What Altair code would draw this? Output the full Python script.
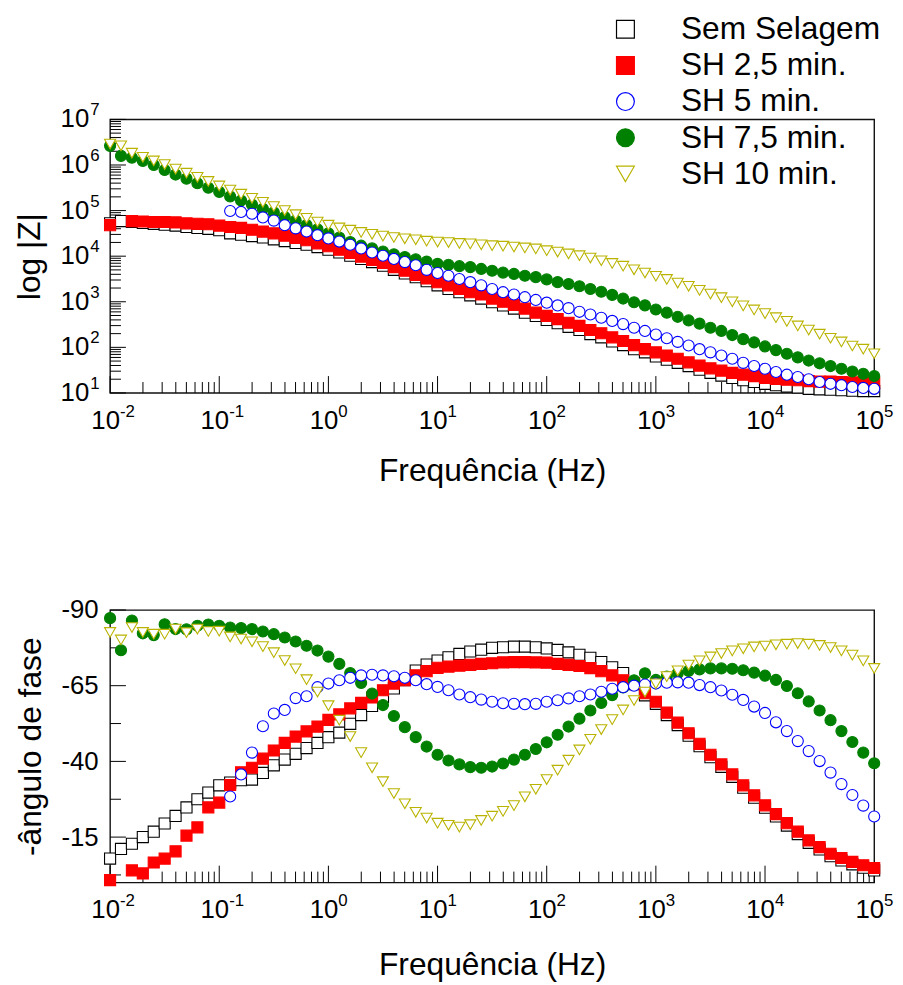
import altair as alt
import pandas as pd

# ---------------- data ----------------
freq = [0.01, 0.01259, 0.01585, 0.01995, 0.02512, 0.03162, 0.03981, 0.05012, 0.0631, 0.07943,
        0.1, 0.1259, 0.1585, 0.1995, 0.2512, 0.3162, 0.3981, 0.5012, 0.631, 0.7943,
        1, 1.259, 1.585, 1.995, 2.512, 3.162, 3.981, 5.012, 6.31, 7.943,
        10, 12.59, 15.85, 19.95, 25.12, 31.62, 39.81, 50.12, 63.1, 79.43,
        100, 125.9, 158.5, 199.5, 251.2, 316.2, 398.1, 501.2, 631, 794.3,
        1000, 1259, 1585, 1995, 2512, 3162, 3981, 5012, 6310, 7943,
        10000, 12590, 15850, 19950, 25120, 31620, 39810, 50120, 63100, 79430, 100000]

series = ["Sem Selagem", "SH 2,5 min.", "SH 5 min.", "SH 7,5 min.", "SH 10 min."]

# log10 |Z| (ohm)
logz_sem = [4.72, 4.77, 4.75, 4.73, 4.71, 4.69, 4.67, 4.64, 4.62, 4.60, 4.57,
            4.50, 4.47, 4.44, 4.41, 4.37, 4.33, 4.29, 4.25, 4.20, 4.14,
            4.08, 4.01, 3.94, 3.87, 3.79, 3.70, 3.62, 3.54, 3.45, 3.36,
            3.28, 3.21, 3.14, 3.07, 2.99, 2.92, 2.85, 2.76, 2.69, 2.60,
            2.53, 2.45, 2.38, 2.29, 2.22, 2.13, 2.05, 1.96, 1.89, 1.80,
            1.73, 1.66, 1.59, 1.51, 1.44, 1.38, 1.33, 1.28, 1.24, 1.20,
            1.17, 1.14, 1.12, 1.09, 1.08, 1.07, 1.06, 1.05, 1.04, 1.04]
logz_sh25 = [4.68, None, 4.77, 4.76, 4.75, 4.75, 4.74, 4.72, 4.71, 4.70, 4.67,
             4.64, 4.62, 4.58, 4.54, 4.50, 4.45, 4.40, 4.35, 4.28, 4.22,
             4.14, 4.07, 3.99, 3.92, 3.85, 3.76, 3.68, 3.59, 3.51, 3.43,
             3.36, 3.28, 3.21, 3.16, 3.07, 3.00, 2.93, 2.85, 2.76, 2.69,
             2.62, 2.54, 2.47, 2.38, 2.31, 2.22, 2.14, 2.05, 1.96, 1.89,
             1.82, 1.75, 1.67, 1.60, 1.54, 1.49, 1.44, 1.40, 1.37, 1.33,
             1.31, 1.29, 1.28, 1.26, 1.25, 1.25, 1.24, 1.23, 1.22, 1.22]
logz_sh5 = [None, None, None, None, None, None, None, None, None, None, None,
            4.99, 4.97, 4.93, 4.85, 4.78, 4.68, 4.61, 4.54, 4.46, 4.39,
            4.32, 4.25, 4.17, 4.08, 4.01, 3.94, 3.87, 3.80, 3.70, 3.63,
            3.57, 3.50, 3.43, 3.36, 3.28, 3.21, 3.16, 3.10, 3.04, 2.98,
            2.92, 2.86, 2.78, 2.72, 2.65, 2.58, 2.51, 2.43, 2.36, 2.28,
            2.20, 2.12, 2.04, 1.96, 1.89, 1.82, 1.75, 1.66, 1.59, 1.53,
            1.46, 1.40, 1.35, 1.30, 1.24, 1.20, 1.17, 1.13, 1.11, 1.09]
logz_sh75 = [6.42, 6.20, 6.16, 6.09, 6.00, 5.89, 5.79, 5.70, 5.60, 5.50, 5.41,
             5.31, 5.22, 5.13, 5.04, 4.96, 4.86, 4.78, 4.68, 4.59, 4.50,
             4.41, 4.31, 4.23, 4.17, 4.10, 4.04, 3.98, 3.93, 3.88, 3.83,
             3.81, 3.78, 3.76, 3.72, 3.68, 3.64, 3.61, 3.57, 3.54, 3.49,
             3.43, 3.39, 3.34, 3.28, 3.22, 3.15, 3.07, 2.99, 2.92, 2.83,
             2.76, 2.67, 2.59, 2.52, 2.43, 2.36, 2.27, 2.18, 2.11, 2.02,
             1.94, 1.86, 1.78, 1.71, 1.65, 1.59, 1.53, 1.47, 1.42, 1.37]
logz_sh10 = [6.46, 6.42, 6.26, 6.17, 6.09, 6.01, 5.91, 5.82, 5.73, 5.64, 5.54,
             5.45, 5.36, 5.27, 5.18, 5.09, 5.00, 4.91, 4.83, 4.75, 4.68,
             4.62, 4.57, 4.52, 4.48, 4.44, 4.41, 4.38, 4.36, 4.33, 4.31,
             4.30, 4.28, 4.27, 4.25, 4.23, 4.22, 4.20, 4.18, 4.16, 4.12,
             4.09, 4.05, 4.01, 3.96, 3.90, 3.84, 3.78, 3.70, 3.63, 3.56,
             3.49, 3.41, 3.34, 3.25, 3.17, 3.09, 3.00, 2.91, 2.82, 2.74,
             2.65, 2.57, 2.47, 2.38, 2.29, 2.20, 2.12, 2.03, 1.96, 1.86]

# phase angle (degrees)
ph_sem = [-7.9, -11.1, -12.8, -15.0, -16.8, -19.5, -22.0, -24.8, -27.5, -29.7, -32.1,
          -33.0, -33.8, -34.0, -36.2, -38.7, -40.6, -42.5, -44.4, -46.1, -48.0,
          -49.5, -52.4, -55.3, -58.3, -61.3, -64.1, -66.8, -70.0, -72.0, -73.3,
          -74.4, -75.5, -76.3, -76.9, -77.5, -77.7, -77.9, -77.9, -77.7, -77.3,
          -76.8, -76.0, -75.2, -74.2, -72.8, -71.1, -69.2, -65.5, -61.8, -59.0,
          -55.3, -52.0, -48.5, -45.0, -41.4, -38.2, -34.9, -31.3, -28.0, -24.7,
          -21.8, -18.8, -16.0, -13.1, -10.9, -8.7, -7.3, -6.0, -4.9, -4.0]
ph_sh25 = [-0.8, None, -4.0, -3.0, -6.6, -7.9, -10.3, -15.5, -18.2, -24.8, -26.4,
           -32.2, -36.4, -37.9, -40.9, -43.6, -46.1, -48.2, -49.9, -51.5, -53.7,
           -55.5, -57.5, -59.3, -61.1, -63.5, -65.7, -66.8, -68.4, -69.8, -70.9,
           -71.3, -71.6, -71.9, -72.2, -72.4, -72.7, -72.8, -72.8, -72.7, -72.6,
           -72.2, -71.9, -71.5, -70.8, -69.8, -68.4, -66.8, -65.8, -62.5, -59.7,
           -56.1, -52.8, -49.3, -45.8, -42.2, -39.0, -35.7, -32.1, -28.8, -25.5,
           -22.6, -19.6, -16.8, -13.9, -11.7, -9.5, -8.1, -6.8, -5.7, -4.8]
ph_sh5 = [None, None, None, None, None, None, None, None, None, None, None,
          -28.4, -35.7, -42.9, -51.6, -55.8, -57.0, -60.9, -61.5, -64.5, -65.7,
          -66.8, -67.6, -68.4, -68.6, -68.4, -68.1, -67.6, -66.8, -65.5, -64.6,
          -63.5, -62.1, -61.2, -60.4, -59.7, -59.2, -59.0, -58.9, -59.0, -59.7,
          -60.2, -60.8, -61.5, -62.1, -63.0, -64.0, -64.5, -65.0, -65.4, -65.7,
          -66.0, -66.1, -66.0, -65.2, -64.5, -63.4, -62.0, -60.3, -58.1, -56.0,
          -52.9, -50.0, -46.7, -43.4, -40.1, -36.3, -32.5, -28.9, -25.4, -21.8]
ph_sh75 = [-87.3, -76.7, -86.5, -82.3, -81.7, -85.3, -83.7, -83.6, -84.8, -85.2, -84.8,
           -84.2, -84.0, -83.7, -82.9, -82.0, -80.9, -79.6, -78.2, -76.6, -74.6,
           -72.2, -69.2, -65.9, -62.4, -58.6, -55.0, -51.3, -48.0, -44.9, -42.2,
           -40.3, -39.0, -38.1, -37.9, -38.3, -39.3, -40.6, -42.2, -44.1, -46.3,
           -48.8, -51.5, -54.1, -56.8, -59.3, -61.9, -64.4, -66.8, -69.1, -66.9,
           -68.0, -69.1, -69.9, -70.4, -70.7, -70.7, -70.6, -70.1, -69.3, -68.3,
           -66.9, -64.9, -62.5, -59.8, -56.8, -53.6, -50.0, -46.4, -42.9, -39.4]
ph_sh10 = [-82.6, -80.1, -84.2, -82.6, -82.0, -82.0, -83.7, -82.5, -83.7, -82.9, -83.0,
           -81.1, -80.4, -79.5, -77.9, -75.9, -73.3, -70.6, -67.0, -62.9, -58.4,
           -53.6, -48.2, -42.9, -37.9, -33.3, -29.4, -26.0, -23.2, -21.3, -19.6,
           -18.9, -18.3, -19.1, -20.5, -21.9, -23.5, -25.4, -28.3, -30.8, -34.0,
           -37.1, -40.4, -43.8, -47.3, -50.5, -53.8, -57.0, -60.1, -62.9, -65.6,
           -68.0, -69.9, -71.8, -73.2, -74.5, -75.6, -76.5, -77.2, -77.8, -78.1,
           -78.5, -78.7, -78.9, -78.7, -78.3, -77.6, -76.5, -75.1, -73.2, -70.7]

# axis ticks and their labels
x_major = [0.01, 0.1, 1, 10, 100, 1000, 10000, 100000]
x_exp = ["-2", "-1", "0", "1", "2", "3", "4", "5"]
z_major = [10, 100, 1000, 10000, 100000, 1000000, 10000000]
z_exp = ["1", "2", "3", "4", "5", "6", "7"]
ph_major = [-90, -65, -40, -15]
ph_minor = [-77.5, -52.5, -27.5, -2.5]

# ---------------- styling ----------------
stroke_colors = ["#000000", "#ff0000", "#0000ff", "#008000", "#b9b300"]
fill_colors = ["#ffffff", "#ff0000", "#ffffff", "#008000", "#ffffff"]
shapes = ["square", "square", "circle", "circle", "triangle-down"]
draw_order = [0, 1, 3, 2, 4]

FONT = "Liberation Sans"
W, H1, H2 = 771, 276, 275

x_minor = [m * d for d in x_major[:-1] for m in range(2, 10)]
z_minor = [m * d for d in z_major[:-1] for m in range(2, 10)]


def long_table(arrays, col):
    rows = []
    for k in draw_order:
        for f, v in zip(freq, arrays[k]):
            if v is not None:
                rows.append({"freq": f, "series": series[k], col: v})
    return pd.DataFrame(rows)


df_top = long_table([logz_sem, logz_sh25, logz_sh5, logz_sh75, logz_sh10], "logZ")
df_bot = long_table([ph_sem, ph_sh25, ph_sh5, ph_sh75, ph_sh10], "phase")

xscale = alt.Scale(type="log", domain=[0.01, 100000], nice=False)


def x_def(title_pad):
    return alt.X("freq:Q", scale=xscale, axis=alt.Axis(
        values=x_major, labels=False, ticks=False, tickSize=0, domain=False, grid=False,
        title="Frequência (Hz)", titleFontSize=32, titleFontWeight="normal",
        titleFont=FONT, titleColor="black", titlePadding=title_pad))


def legend_def():
    return alt.Legend(title=None, orient="none", legendX=504, legendY=-107, padding=0,
                      labelFontSize=32, labelFont=FONT, labelColor="black", labelLimit=400,
                      symbolSize=324, symbolStrokeWidth=1.2, labelOffset=40, rowPadding=4.5)


def point_layer(data, X, y_enc, with_legend):
    lg = legend_def() if with_legend else None
    return alt.Chart(data).mark_point(filled=True, opacity=1, size=125, strokeWidth=1.1).encode(
        x=X, y=y_enc,
        stroke=alt.Stroke("series:N", scale=alt.Scale(domain=series, range=stroke_colors), legend=lg),
        fill=alt.Fill("series:N", scale=alt.Scale(domain=series, range=fill_colors), legend=lg),
        shape=alt.Shape("series:N", scale=alt.Scale(domain=series, range=shapes), legend=lg),
    )


def tick_layers(X, Y, yfield, h, ymaj, ymin):
    xt_maj = alt.Chart(pd.DataFrame({"freq": x_major})).mark_rule(color="black", strokeWidth=1).encode(
        x=X, y=alt.value(h), y2=alt.value(h - 17))
    xt_min = alt.Chart(pd.DataFrame({"freq": x_minor})).mark_rule(color="black", strokeWidth=1).encode(
        x=X, y=alt.value(h), y2=alt.value(h - 11))
    yt_maj = alt.Chart(pd.DataFrame({yfield: ymaj})).mark_rule(color="black", strokeWidth=1).encode(
        y=Y, x=alt.value(0), x2=alt.value(16))
    yt_min = alt.Chart(pd.DataFrame({yfield: ymin})).mark_rule(color="black", strokeWidth=1).encode(
        y=Y, x=alt.value(0), x2=alt.value(11))
    return [xt_maj, xt_min, yt_maj, yt_min]


def x_label_layers(X, h):
    d = pd.DataFrame({"freq": x_major, "exp": x_exp})
    base = alt.Chart(d).mark_text(text="10", font=FONT, fontSize=26, align="right",
                                  baseline="alphabetic", dx=10, color="black").encode(
        x=X, y=alt.value(h + 36))
    expo = alt.Chart(d).mark_text(font=FONT, fontSize=17, align="left",
                                  baseline="alphabetic", dx=10, color="black").encode(
        x=X, y=alt.value(h + 24), text="exp:N")
    return [base, expo]


# ---- top panel: |Z| ----
X_top = x_def(63)
Y_top = alt.Y("Z:Q", scale=alt.Scale(type="log", domain=[10, 10000000], nice=False),
              axis=alt.Axis(values=z_major, labels=False, ticks=False, tickSize=0, domain=False,
                            grid=False, title="log |Z|", titleFontSize=32, titleFontWeight="normal",
                            titleFont=FONT, titleColor="black", titlePadding=64))
zd = pd.DataFrame({"Z": z_major, "exp": z_exp})
y_base_top = alt.Chart(zd).mark_text(text="10", font=FONT, fontSize=26, align="right",
                                     baseline="middle", color="black").encode(
    y=Y_top, x=alt.value(-21))
y_exp_top = alt.Chart(zd).mark_text(font=FONT, fontSize=17, align="left", baseline="middle",
                                    dy=-9, color="black").encode(
    y=Y_top, x=alt.value(-20), text="exp:N")
pts_top = point_layer(df_top, X_top, Y_top, True).transform_calculate(Z="pow(10, datum.logZ)")
top = alt.layer(*tick_layers(X_top, Y_top, "Z", H1, z_major, z_minor),
                *x_label_layers(X_top, H1), y_base_top, y_exp_top, pts_top).properties(
    width=W, height=H1)

# ---- bottom panel: phase ----
X_bot = x_def(68)
Y_bot = alt.Y("phase:Q", scale=alt.Scale(domain=[-90, 0], reverse=True, nice=False),
              axis=alt.Axis(values=ph_major, labelExpr="'' + datum.value", ticks=False, tickSize=0,
                            domain=False, grid=False, labelPadding=12, labelFontSize=26,
                            labelFont=FONT, labelColor="black",
                            labelOverlap=False, labelFlush=False, title="-ângulo de fase",
                            titleFontSize=32, titleFontWeight="normal", titleFont=FONT,
                            titleColor="black", titlePadding=14))
pts_bot = point_layer(df_bot, X_bot, Y_bot, False)
bottom = alt.layer(*tick_layers(X_bot, Y_bot, "phase", H2, ph_major, ph_minor),
                   *x_label_layers(X_bot, H2), pts_bot).properties(
    width=W, height=H2)

chart = alt.vconcat(top, bottom, spacing=110).resolve_scale(
    stroke="independent", fill="independent", shape="independent"
).properties(
    padding={"left": 5, "top": 0, "right": 0, "bottom": 0},
    background="white"
).configure_view(
    stroke="#111111", strokeWidth=1.4
).configure_axis(
    labelFont=FONT, titleFont=FONT, labelColor="black", titleColor="black", titleFontWeight="normal"
)

chart.save("out.html", embed_options={"renderer": "svg", "actions": False})
